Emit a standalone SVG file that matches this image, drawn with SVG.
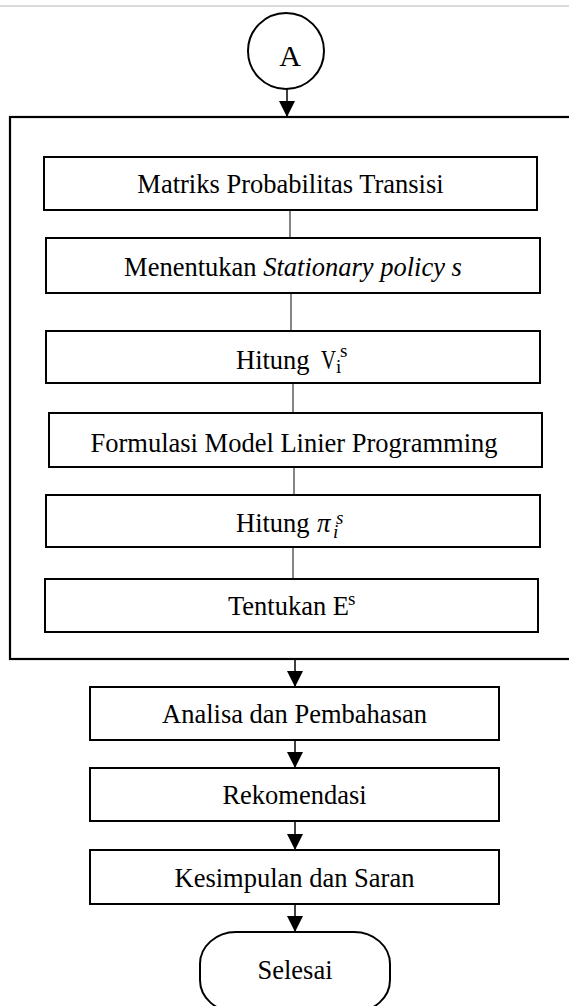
<svg xmlns="http://www.w3.org/2000/svg" width="569" height="1006" viewBox="0 0 569 1006">
<style>
.box{fill:#fff;stroke:#000;stroke-width:2}
.frame{fill:none;stroke:#000;stroke-width:2.2}
.conn{stroke:#333;stroke-width:1.2;fill:none}
.arr{stroke:#000;stroke-width:1.5;fill:none;marker-end:url(#ah)}
.t{font-family:"Liberation Serif","Times New Roman",serif;font-size:26.5px;fill:#000}
.m{font-family:"Liberation Serif","Times New Roman",serif;fill:#000}
</style>
<defs>
<marker id="ah" viewBox="0 0 16 16" refX="16" refY="8" markerWidth="16" markerHeight="16" markerUnits="userSpaceOnUse" orient="auto">
<path d="M0,0 L16,8 L0,16 z" fill="#000"/>
</marker>
</defs>
<rect width="569" height="1006" fill="#fff"/>
<line x1="0" y1="6" x2="569" y2="6" stroke="#d9d9d9" stroke-width="2"/>

<g id="connectors">
<line class="arr" x1="287" y1="89" x2="287" y2="117"/>
<line class="conn" x1="290" y1="210" x2="290" y2="238"/>
<line class="conn" x1="291" y1="293" x2="291" y2="331"/>
<line class="conn" x1="293" y1="383" x2="293" y2="413"/>
<line class="conn" x1="294" y1="467" x2="294" y2="495"/>
<line class="conn" x1="293" y1="547" x2="293" y2="579"/>
<line class="arr" x1="295" y1="659" x2="295" y2="687"/>
<line class="arr" x1="295" y1="740" x2="295" y2="768"/>
<line class="arr" x1="295" y1="821" x2="295" y2="850"/>
<line class="arr" x1="295" y1="904" x2="295" y2="932"/>
</g>

<g id="nodeA">
<circle cx="286" cy="51" r="38" fill="#fff" stroke="#000" stroke-width="2"/>
<text class="m" x="290" y="66" font-size="30" text-anchor="middle">A</text>
</g>

<g id="frame">
<rect class="frame" x="10" y="117" width="572" height="542"/>
</g>

<g id="n1">
<rect class="box" x="44" y="157" width="493" height="53"/>
<text class="t" x="290.5" y="193" text-anchor="middle">Matriks Probabilitas Transisi</text>
</g>

<g id="n2">
<rect class="box" x="46" y="238" width="494" height="55"/>
<text class="t" x="293" y="276" text-anchor="middle">Menentukan <tspan font-style="italic">Stationary policy s</tspan></text>
</g>

<g id="n3">
<rect class="box" x="46" y="331" width="494" height="52"/>
<text class="t" x="236" y="369">Hitung</text>
<text class="m" x="321" y="369" font-size="27" textLength="15" lengthAdjust="spacingAndGlyphs">V</text>
<text class="m" x="336" y="373" font-size="19">i</text>
<text class="m" x="340" y="357" font-size="19">s</text>
</g>

<g id="n4">
<rect class="box" x="49" y="413" width="493" height="54"/>
<text class="t" x="294" y="452" text-anchor="middle">Formulasi Model Linier Programming</text>
</g>

<g id="n5">
<rect class="box" x="46" y="495" width="494" height="52"/>
<text class="t" x="236" y="532">Hitung</text>
<text class="m" x="317" y="532" font-size="27" font-style="italic">π</text>
<text class="m" x="333" y="538" font-size="19" font-style="italic">i</text>
<text class="m" x="336" y="524" font-size="19" font-style="italic">s</text>
</g>

<g id="n6">
<rect class="box" x="45" y="579" width="493" height="53"/>
<text class="t" x="228" y="615">Tentukan E</text>
<text class="m" x="348" y="605" font-size="19">s</text>
</g>

<g id="n7">
<rect class="box" x="90" y="687" width="409" height="53"/>
<text class="t" x="294.5" y="723" text-anchor="middle">Analisa dan Pembahasan</text>
</g>

<g id="n8">
<rect class="box" x="90" y="768" width="409" height="53"/>
<text class="t" x="294.5" y="804" text-anchor="middle">Rekomendasi</text>
</g>

<g id="n9">
<rect class="box" x="90" y="850" width="409" height="54"/>
<text class="t" x="294.5" y="887" text-anchor="middle">Kesimpulan dan Saran</text>
</g>

<g id="end">
<rect class="box" x="200" y="932" width="190" height="80" rx="36" ry="32"/>
<text class="t" x="295" y="979" text-anchor="middle">Selesai</text>
</g>
</svg>
